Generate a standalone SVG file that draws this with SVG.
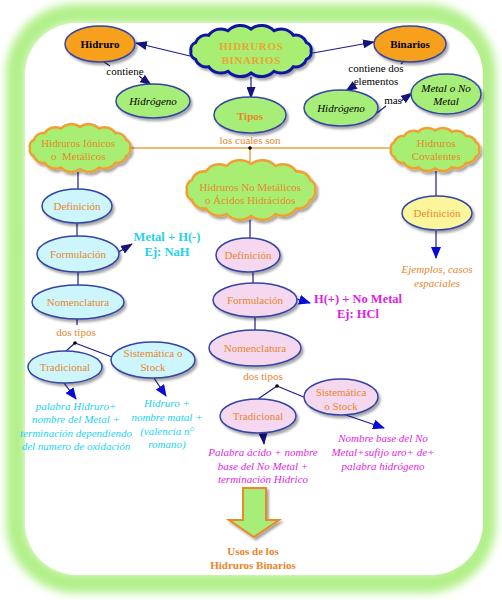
<svg xmlns="http://www.w3.org/2000/svg" width="502" height="600" viewBox="0 0 502 600">
<style>
text{font-family:"Liberation Serif","Times New Roman",serif;font-size:11px;text-anchor:middle}
.o{fill:#e8862a}
.b{font-weight:bold}
.i{font-style:italic}
.k{fill:#000}
.cy{fill:#22d2ee}
.mg{fill:#e01ee0}
.big{font-size:12.5px;font-weight:bold}
.ln{stroke:#1c1c8c;stroke-width:1.2;fill:none}
.lo{stroke:#f0a040;stroke-width:1.5;fill:none}
.el{stroke:#3444a4;stroke-width:1.5}
.g{fill:#a6ee78}
.or{fill:#f6a01c}
.c{fill:#cdf6fc}
.p{fill:#f5d8f0}
.y{fill:#fbf69c}
.clb{fill:#a8ee72;stroke:#0a14a0;stroke-width:3}
.clo{fill:#a8ee72;stroke:#f0a030;stroke-width:2.5}
</style>
<defs>
<filter id="blur" x="-10%" y="-10%" width="120%" height="120%"><feGaussianBlur stdDeviation="4"/></filter>
<filter id="sh" x="-20%" y="-20%" width="150%" height="150%"><feDropShadow dx="2" dy="2.5" stdDeviation="1.2" flood-color="#000" flood-opacity="0.35"/></filter>
<marker id="arr" markerUnits="userSpaceOnUse" markerWidth="12" markerHeight="9" refX="11" refY="4.5" orient="auto" viewBox="0 0 12 9"><path d="M0,0 L12,4.5 L0,9 Z" fill="#14147a"/></marker>
<marker id="arrB" markerUnits="userSpaceOnUse" markerWidth="12" markerHeight="10" refX="11" refY="5" orient="auto" viewBox="0 0 12 10"><path d="M0,0 L12,5 L0,10 Z" fill="#0a0ad8"/></marker>
</defs>

<g id="frame">
<rect x="16" y="14" width="470" height="569" rx="60" fill="none" stroke="#b2f08a" stroke-width="20" filter="url(#blur)"/>
<rect x="25" y="23" width="458" height="552" rx="52" fill="#fff"/>
</g>

<g id="connectors">
<line class="ln" x1="190" y1="56" x2="136" y2="43" marker-end="url(#arr)"/>
<line class="ln" x1="313" y1="53" x2="374" y2="42" marker-end="url(#arr)"/>
<line class="ln" x1="104" y1="62" x2="110" y2="66" stroke="#9090a0"/>
<line class="ln" x1="139" y1="76" x2="151" y2="85" marker-end="url(#arr)"/>
<line class="ln" x1="403" y1="62" x2="401" y2="64" stroke="#9090a0"/>
<line class="ln" x1="355" y1="85" x2="346" y2="91" marker-end="url(#arr)"/>
<line class="ln" x1="377" y1="113" x2="386" y2="106"/>
<line class="ln" x1="401" y1="101" x2="412" y2="93" marker-end="url(#arr)"/>
<line class="ln" x1="251" y1="77" x2="251" y2="98" marker-end="url(#arr)"/>
<line class="lo" x1="131" y1="148" x2="390" y2="148"/>
<line class="lo" x1="250" y1="148" x2="250" y2="162"/>
<circle cx="250" cy="148" r="1.8" fill="#000"/>
<line class="ln" x1="78" y1="172" x2="78" y2="189"/>
<line class="ln" x1="77" y1="223" x2="77" y2="237"/>
<line class="ln" x1="78" y1="272" x2="78" y2="285"/>
<line class="ln" x1="77" y1="319" x2="77" y2="325"/>
<line class="ln" x1="117" y1="253" x2="132" y2="244" marker-end="url(#arr)"/>
<line class="ln" x1="75" y1="343" x2="65" y2="352"/>
<line class="ln" x1="75" y1="343" x2="112" y2="357"/>
<circle cx="75" cy="343" r="1.8" fill="#000"/>
<line class="ln" x1="64" y1="383" x2="76" y2="399" stroke="#0a0ad8" marker-end="url(#arrB)"/>
<line class="ln" x1="154" y1="378" x2="166" y2="396" stroke="#0a0ad8" marker-end="url(#arrB)"/>
<line class="ln" x1="250" y1="220" x2="250" y2="238"/>
<line class="ln" x1="253" y1="272" x2="253" y2="283"/>
<line class="ln" x1="297" y1="299" x2="310" y2="303" marker-end="url(#arrB)"/>
<line class="ln" x1="255" y1="317" x2="255" y2="330"/>
<line class="ln" x1="277" y1="386" x2="258" y2="399"/>
<line class="ln" x1="277" y1="386" x2="306" y2="398"/>
<circle cx="277" cy="386" r="1.8" fill="#000"/>
<line class="ln" x1="263" y1="433" x2="264" y2="444" marker-end="url(#arr)"/>
<line class="ln" x1="343" y1="414" x2="384" y2="428" marker-end="url(#arrB)"/>
<line class="ln" x1="436" y1="171" x2="436" y2="196"/>
<line class="ln" x1="436" y1="231" x2="436" y2="258" stroke="#0a0ad8" marker-end="url(#arrB)"/>
</g>

<g id="hidruros-binarios" filter="url(#sh)">
<path class="clb" d="M311,51 A7.2,7.2 0 0 1 306.4,59.4 A11.2,11.2 0 0 1 293.4,66.6 A15,15 0 0 1 274,71.3 A17.3,17.3 0 0 1 251,73 A17.3,17.3 0 0 1 228,71.3 A15,15 0 0 1 208.6,66.6 A11.2,11.2 0 0 1 195.6,59.4 A7.2,7.2 0 0 1 191,51 A7.2,7.2 0 0 1 195.6,42.6 A11.2,11.2 0 0 1 208.6,35.4 A15,15 0 0 1 228,30.7 A17.3,17.3 0 0 1 251,29 A17.3,17.3 0 0 1 274,30.7 A15,15 0 0 1 293.4,35.4 A11.2,11.2 0 0 1 306.4,42.6 A7.2,7.2 0 0 1 311,51 Z"/>
<text x="251" y="50" class="b" fill="#f0a030" letter-spacing="0.6">HIDRUROS</text>
<text x="251" y="64" class="b" fill="#f0a030" letter-spacing="0.6">BINARIOS</text>
</g>
<g id="hidruro">
<ellipse cx="100" cy="44" rx="35" ry="18" class="el or" filter="url(#sh)"/>
<text x="100" y="48" class="b k">Hidruro</text>
</g>
<g id="binarios">
<ellipse cx="410" cy="44" rx="36" ry="18" class="el or" filter="url(#sh)"/>
<text x="410" y="48" class="b k">Binarios</text>
</g>
<g id="lbl-contiene"><text x="125" y="75" class="k">contiene</text></g>
<g id="hidrogeno-1">
<ellipse cx="153" cy="101" rx="37" ry="17" class="el g" filter="url(#sh)"/>
<text x="153" y="105" class="i k">Hidrógeno</text>
</g>
<g id="lbl-contiene-dos"><text x="376" y="72" class="k">contiene dos</text><text x="376" y="85" class="k">elementos</text></g>
<g id="hidrogeno-2">
<ellipse cx="341" cy="108" rx="37" ry="18" class="el g" filter="url(#sh)"/>
<text x="341" y="112" class="i k">Hidrógeno</text>
</g>
<g id="lbl-mas"><text x="393" y="104" class="k">mas</text></g>
<g id="metal-no-metal">
<ellipse cx="446" cy="94" rx="35" ry="20" class="el g" filter="url(#sh)"/>
<text x="446" y="92" class="i k">Metal o No</text>
<text x="446" y="105" class="i k">Metal</text>
</g>
<g id="tipos">
<ellipse cx="250" cy="115" rx="36" ry="18" class="el g" filter="url(#sh)"/>
<text x="250" y="120" class="b o">Tipos</text>
</g>
<g id="lbl-cuales"><text x="250" y="144" class="o">los cuales son</text></g>

<g id="ionicos" filter="url(#sh)">
<path class="clo" d="M130,148 A6.7,6.7 0 0 1 126.2,156 A9.6,9.6 0 0 1 115.4,162.8 A12.6,12.6 0 0 1 99.2,167.4 A14.5,14.5 0 0 1 80,169 A14.5,14.5 0 0 1 60.8,167.4 A12.6,12.6 0 0 1 44.6,162.8 A9.6,9.6 0 0 1 33.8,156 A6.7,6.7 0 0 1 30,148 A6.7,6.7 0 0 1 33.8,140 A9.6,9.6 0 0 1 44.6,133.2 A12.6,12.6 0 0 1 60.8,128.6 A14.5,14.5 0 0 1 80,127 A14.5,14.5 0 0 1 99.2,128.6 A12.6,12.6 0 0 1 115.4,133.2 A9.6,9.6 0 0 1 126.2,140 A6.7,6.7 0 0 1 130,148 Z"/>
<text x="78" y="147" class="o">Hidruros Iónicos</text>
<text x="78" y="160" class="o" xml:space="preserve">o  Metálicos</text>
</g>
<g id="no-metalicos" filter="url(#sh)">
<path class="clo" d="M315,190 A8.3,8.3 0 0 1 310.1,200 A12.2,12.2 0 0 1 296.2,208.4 A16,16 0 0 1 275.5,214 A18.5,18.5 0 0 1 251,216 A18.5,18.5 0 0 1 226.5,214 A16,16 0 0 1 205.8,208.4 A12.2,12.2 0 0 1 191.9,200 A8.3,8.3 0 0 1 187,190 A8.3,8.3 0 0 1 191.9,180 A12.2,12.2 0 0 1 205.8,171.6 A16,16 0 0 1 226.5,166 A18.5,18.5 0 0 1 251,164 A18.5,18.5 0 0 1 275.5,166 A16,16 0 0 1 296.2,171.6 A12.2,12.2 0 0 1 310.1,180 A8.3,8.3 0 0 1 315,190 Z"/>
<text x="250" y="191" class="o">Hidruros No Metálicos</text>
<text x="250" y="204" class="o">o Ácidos Hidrácidos</text>
</g>
<g id="covalentes" filter="url(#sh)">
<path class="clo" d="M479,149.5 A6,6 0 0 1 475.7,156.8 A8.6,8.6 0 0 1 466.1,162.9 A11.1,11.1 0 0 1 451.9,167.1 A12.7,12.7 0 0 1 435,168.5 A12.7,12.7 0 0 1 418.1,167.1 A11.1,11.1 0 0 1 403.9,162.9 A8.6,8.6 0 0 1 394.3,156.8 A6,6 0 0 1 391,149.5 A6,6 0 0 1 394.3,142.2 A8.6,8.6 0 0 1 403.9,136.1 A11.1,11.1 0 0 1 418.1,131.9 A12.7,12.7 0 0 1 435,130.5 A12.7,12.7 0 0 1 451.9,131.9 A11.1,11.1 0 0 1 466.1,136.1 A8.6,8.6 0 0 1 475.7,142.2 A6,6 0 0 1 479,149.5 Z"/>
<text x="436" y="147" class="o">Hidruros</text>
<text x="436" y="160" class="o">Covalentes</text>
</g>

<g id="def-1">
<ellipse cx="77" cy="206" rx="35" ry="17" class="el c" filter="url(#sh)"/>
<text x="77" y="210" class="o">Definición</text>
</g>
<g id="form-1">
<ellipse cx="78" cy="254" rx="41" ry="18" class="el c" filter="url(#sh)"/>
<text x="78" y="258" class="o">Formulación</text>
</g>
<g id="txt-metal-h"><text x="167" y="241" class="big cy">Metal + H(-)</text><text x="167" y="256" class="big cy">Ej: NaH</text></g>
<g id="nom-1">
<ellipse cx="78" cy="302" rx="46" ry="17" class="el c" filter="url(#sh)"/>
<text x="78" y="306" class="o">Nomenclatura</text>
</g>
<g id="lbl-dos-1"><text x="76" y="336" class="o">dos tipos</text></g>
<g id="trad-1">
<ellipse cx="65" cy="367" rx="37" ry="16" class="el c" filter="url(#sh)"/>
<text x="65" y="371" class="o">Tradicional</text>
</g>
<g id="stock-1">
<ellipse cx="153" cy="360" rx="42" ry="18" class="el c" filter="url(#sh)"/>
<text x="153" y="357" class="o">Sistemática o</text>
<text x="153" y="371" class="o">Stock</text>
</g>
<g id="txt-trad-1">
<text x="76" y="410" class="i cy">palabra Hidruro+</text>
<text x="76" y="423" class="i cy">nombre del Metal +</text>
<text x="76" y="437" class="i cy">terminación dependiendo</text>
<text x="76" y="450" class="i cy">del numero de oxidación</text>
</g>
<g id="txt-stock-1">
<text x="167" y="407" class="i cy">Hidruro +</text>
<text x="167" y="421" class="i cy">nombre matal +</text>
<text x="167" y="435" class="i cy">(valencia n°</text>
<text x="167" y="448" class="i cy">romano)</text>
</g>

<g id="def-2">
<ellipse cx="248" cy="255" rx="32" ry="17" class="el p" filter="url(#sh)"/>
<text x="248" y="259" class="o">Definición</text>
</g>
<g id="form-2">
<ellipse cx="255" cy="300" rx="42" ry="17" class="el p" filter="url(#sh)"/>
<text x="255" y="304" class="o">Formulación</text>
</g>
<g id="txt-h-nometal"><text x="358" y="303" class="big mg">H(+) + No Metal</text><text x="358" y="318" class="big mg">Ej: HCl</text></g>
<g id="nom-2">
<ellipse cx="255" cy="348" rx="46" ry="18" class="el p" filter="url(#sh)"/>
<text x="255" y="352" class="o">Nomenclatura</text>
</g>
<g id="lbl-dos-2"><text x="263" y="380" class="o">dos tipos</text></g>
<g id="trad-2">
<ellipse cx="258" cy="416" rx="38" ry="17" class="el p" filter="url(#sh)"/>
<text x="258" y="420" class="o">Tradicional</text>
</g>
<g id="stock-2">
<ellipse cx="341" cy="397" rx="37" ry="18" class="el p" filter="url(#sh)"/>
<text x="341" y="396" class="o">Sistemática</text>
<text x="341" y="410" class="o">o Stock</text>
</g>
<g id="txt-trad-2">
<text x="263" y="456" class="i mg">Palabra ácido + nombre</text>
<text x="263" y="470" class="i mg">base del No Metal +</text>
<text x="263" y="483" class="i mg">terminación Hidrico</text>
</g>
<g id="txt-stock-2">
<text x="383" y="442" class="i mg">Nombre base del No</text>
<text x="383" y="456" class="i mg">Metal+sufijo uro+ de+</text>
<text x="383" y="470" class="i mg">palabra hidrógeno</text>
</g>

<g id="def-3">
<ellipse cx="437" cy="213" rx="35" ry="17" class="el y" filter="url(#sh)"/>
<text x="437" y="217" class="o">Definición</text>
</g>
<g id="txt-ejemplos">
<text x="437" y="273" class="i o">Ejemplos, casos</text>
<text x="437" y="287" class="i o">espaciales</text>
</g>

<g id="usos">
<path d="M243,488 L266,488 L266,520 L279,520 L254,537 L229,520 L243,520 Z" fill="#a6ee78" stroke="#e88a2a" stroke-width="2" filter="url(#sh)"/>
<text x="253" y="555" class="b o">Usos de los</text>
<text x="253" y="569" class="b o">Hidruros Binarios</text>
</g>
</svg>
